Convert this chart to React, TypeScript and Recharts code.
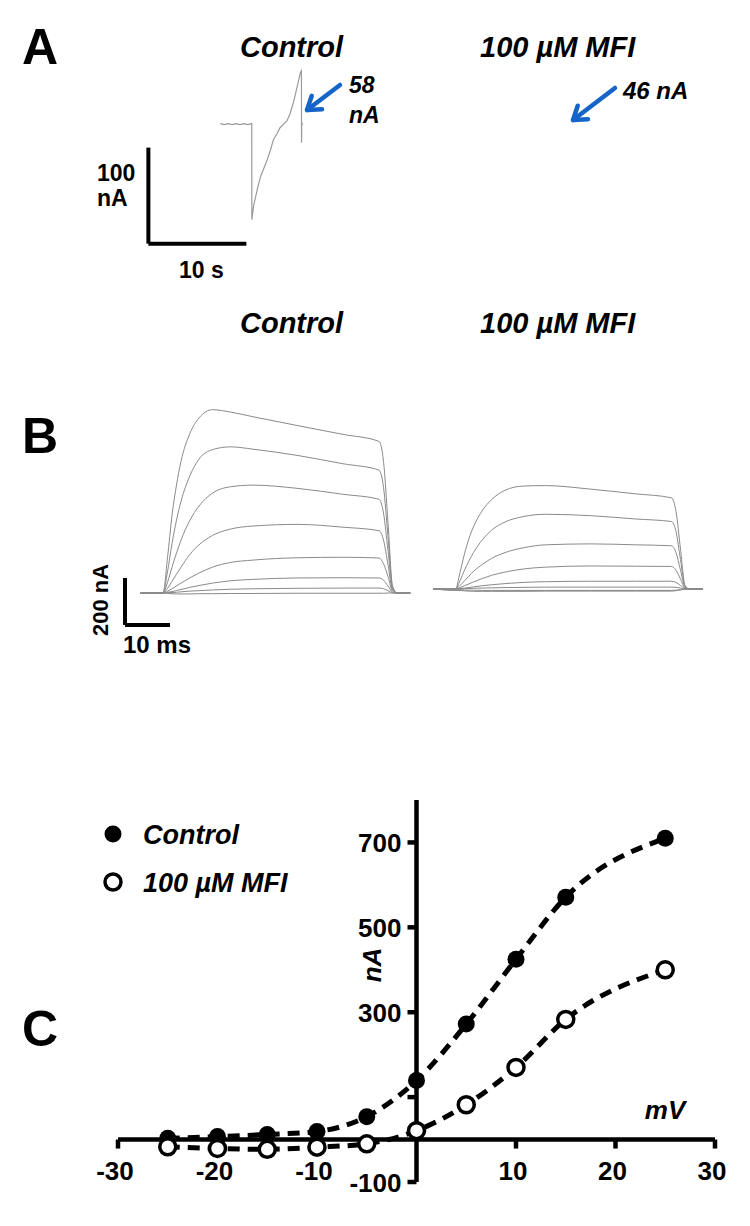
import React from "react";
import { LineChart, Line, XAxis, YAxis, ReferenceLine, ReferenceDot } from "recharts";

const FONT = '"Liberation Sans", Arial, Helvetica, sans-serif';

// ---- panel A: control trace (time in s, current in nA vs holding) ----
const traceATime = [0, 0.4, 0.8, 1.2, 1.6, 2.0, 2.4, 2.8, 3.2, 3.21, 3.4, 3.8, 4.1, 4.5, 4.8, 5.1, 5.4, 5.8, 6.1, 6.5, 6.8, 7.1, 7.45, 7.8, 8.16, 8.27, 8.28, 8.3, 8.4];
const traceACurrent = [1, 0, 1, 0, 1, 0, 1, 0, 1, -99, -84, -66, -54, -44, -36, -27, -16, -9, -3, 1, 4, 11, 23, 38, 54, 56, -19, 2, 0];
// scale bar: [start time, bottom current, 10 s, 100 nA]
const scaleBarA = [-7.35, -124, 10, 100];

// ---- panel B: current families (time in ms, current in nA) ----
const stepTime = [-5, 0, 1, 2, 3, 4, 6, 8, 11, 15, 20, 30, 40, 48, 49, 50, 51, 52, 55];
const controlTraces = [
  [0, 0, 150, 330, 460, 560, 680, 745, 780, 770, 750, 712, 675, 645, 560, 300, 30, 0, 0],
  [0, 0, 90, 210, 310, 390, 500, 570, 610, 622, 612, 585, 550, 523, 450, 240, 25, 0, 0],
  [0, 0, 45, 110, 170, 225, 310, 370, 425, 452, 459, 445, 420, 399, 340, 180, 20, 0, 0],
  [0, 0, 20, 50, 80, 110, 165, 205, 245, 272, 285, 292, 280, 265, 225, 120, 12, 0, 0],
  [0, 0, 8, 18, 30, 42, 65, 85, 110, 130, 140, 150, 152, 149, 125, 70, 8, 0, 0],
  [0, 0, 3, 6, 10, 15, 24, 32, 42, 52, 58, 64, 65, 64, 55, 30, 3, 0, 0],
  [0, 0, 1, 2, 3, 5, 8, 10, 13, 16, 18, 20, 21, 21, 18, 10, 1, 0, 0],
  [0, 0, -2, -3, -4, -4, -4, -3, -3, -2, -2, -1, -1, -1, -1, 0, 0, 0, 0],
];
const mfiTraces = [
  [0, 0, 70, 150, 215, 265, 335, 380, 420, 438, 440, 425, 405, 388, 330, 170, 15, 0, 0],
  [0, 0, 35, 80, 120, 155, 210, 250, 285, 308, 318, 312, 298, 287, 245, 125, 12, 0, 0],
  [0, 0, 15, 35, 55, 75, 105, 130, 155, 175, 188, 192, 188, 184, 155, 80, 8, 0, 0],
  [0, 0, 6, 14, 22, 30, 45, 58, 72, 85, 93, 98, 97, 96, 80, 42, 4, 0, 0],
  [0, 0, 2, 4, 6, 9, 14, 18, 23, 28, 31, 33, 33, 33, 28, 15, 2, 0, 0],
  [0, -5, 0, 1, 2, 3, 4, 5, 6, 7, 8, 8, 8, 8, 7, 4, 0, 0, 0],
  [0, -5, -3, -4, -5, -5, -6, -6, -6, -6, -6, -6, -6, -6, -5, -3, 0, 0, 0],
  [0, -5, -6, -8, -9, -10, -10, -10, -10, -10, -9, -9, -9, -9, -7, -4, 0, 0, 0],
];
// scale bar: [start time, bottom current, 10 ms, 200 nA]
const scaleBarB = [-8.44, -136, 10, 200];

// ---- panel C: I-V relation ----
const voltages = [-25, -20, -15, -10, -5, 0, 5, 10, 15, 25];
const controlIV = [3, 7, 12, 19, 54, 139, 272, 425, 571, 710];
const mfiIV = [-17, -21, -23, -18, -10, 21, 82, 170, 283, 400];
const xTicks = [-30, -20, -10, 10, 20, 30];
const yTicks = [700, 500, 300, 100, -100];
const yTickLabels = ["700", "500", "300", "", "-100"];

const rowsA = traceATime.map((t, i) => ({ t, i: traceACurrent[i] }));
const buildRows = (traces: number[][]) =>
  stepTime.map((t, i) => {
    const row: Record<string, number> = { t };
    traces.forEach((tr, k) => (row[`s${k}`] = tr[i]));
    return row;
  });
const rowsBc = buildRows(controlTraces);
const rowsBm = buildRows(mfiTraces);
const rowsC = voltages.map((v, i) => ({ v, control: controlIV[i], mfi: mfiIV[i] }));

const abs = (left: number, top: number): React.CSSProperties => ({ position: "absolute", left, top });

const ScaleBar = ({ bar }: { bar: number[] }) => {
  const [x0, y0, dx, dy] = bar;
  return (
    <>
      <ReferenceLine segment={[{ x: x0, y: y0 }, { x: x0, y: y0 + dy }]} stroke="#000" strokeWidth={4} ifOverflow="visible" />
      <ReferenceLine segment={[{ x: x0, y: y0 }, { x: x0 + dx, y: y0 }]} stroke="#000" strokeWidth={4} ifOverflow="visible" />
    </>
  );
};

const Arrow = ({ x1, y1, x2, y2 }: { x1: number; y1: number; x2: number; y2: number }) => {
  const a = Math.atan2(y2 - y1, x2 - x1);
  const L = 15;
  const p1 = [x2 - L * Math.cos(a - 0.6), y2 - L * Math.sin(a - 0.6)];
  const p2 = [x2 - L * Math.cos(a + 0.6), y2 - L * Math.sin(a + 0.6)];
  return (
    <g stroke="#1565c8" strokeWidth={4.5} fill="none" strokeLinecap="round" strokeLinejoin="round">
      <line x1={x1} y1={y1} x2={x2} y2={y2} />
      <polyline points={`${p1[0]},${p1[1]} ${x2},${y2} ${p2[0]},${p2[1]}`} />
    </g>
  );
};

const bold = { fontFamily: FONT, fontWeight: 700, fill: "#000" } as const;
const boldIt = { ...bold, fontStyle: "italic" } as const;

export default function App() {
  return (
    <div style={{ position: "absolute", left: 0, top: 0, width: 750, height: 1226, background: "#fff", overflow: "hidden" }}>
      {/* Panel A trace */}
      <div style={abs(141.6, 67.4)}>
        <LineChart width={166.6} height={182.4} data={rowsA} margin={{ top: 0, right: 0, bottom: 0, left: 0 }}>
          <XAxis type="number" dataKey="t" domain={[-8, 9]} allowDataOverflow hide />
          <YAxis type="number" domain={[-130, 60]} allowDataOverflow hide />
          <Line type="linear" dataKey="i" stroke="#9a9a9a" strokeWidth={1.2} dot={false} isAnimationActive={false} />
          {ScaleBar({ bar: scaleBarA })}
        </LineChart>
      </div>

      {/* Panel B control family */}
      <div style={abs(118, 405)}>
        <LineChart width={292.5} height={235} data={rowsBc} margin={{ top: 0, right: 0, bottom: 0, left: 0 }}>
          <XAxis type="number" dataKey="t" domain={[-10, 55]} allowDataOverflow hide />
          <YAxis type="number" domain={[-200, 800]} allowDataOverflow hide />
          {controlTraces.map((_, k) => (
            <Line key={k} type="monotone" dataKey={`s${k}`} stroke="#8a8a8a" strokeWidth={1} dot={false} isAnimationActive={false} />
          ))}
          {ScaleBar({ bar: scaleBarB })}
        </LineChart>
      </div>

      {/* Panel B MFI family */}
      <div style={abs(432.5, 401.3)}>
        <LineChart width={270} height={235} data={rowsBm} margin={{ top: 0, right: 0, bottom: 0, left: 0 }}>
          <XAxis type="number" dataKey="t" domain={[-5, 55]} allowDataOverflow hide />
          <YAxis type="number" domain={[-200, 800]} allowDataOverflow hide />
          {mfiTraces.map((_, k) => (
            <Line key={k} type="monotone" dataKey={`s${k}`} stroke="#8a8a8a" strokeWidth={1} dot={false} isAnimationActive={false} />
          ))}
        </LineChart>
      </div>

      {/* Panel C I-V plot */}
      <div style={abs(0, 760)}>
        <LineChart width={750} height={460} data={rowsC} margin={{ top: 40, right: 35, bottom: 38, left: 118 }}>
          <XAxis type="number" dataKey="v" domain={[-30, 30]} allowDataOverflow hide />
          <YAxis type="number" domain={[-100, 800]} allowDataOverflow hide />
          <ReferenceLine y={0} stroke="#000" strokeWidth={4.5} />
          <ReferenceLine x={0} stroke="#000" strokeWidth={4.5} />
          {xTicks.map((v) => (
            <ReferenceDot
              key={`x${v}`}
              x={v}
              y={0}
              r={0}
              shape={(p: any) => (
                <g>
                  <line x1={p.cx} y1={p.cy} x2={p.cx} y2={p.cy + 9} stroke="#000" strokeWidth={4.5} />
                  <text x={p.cx - 3} y={p.cy + 40} textAnchor="middle" fontSize={26} {...bold}>
                    {v}
                  </text>
                </g>
              )}
            />
          ))}
          {yTicks.map((v, i) => (
            <ReferenceDot
              key={`y${v}`}
              x={0}
              y={v}
              r={0}
              shape={(p: any) => (
                <g>
                  <line x1={p.cx - 9} y1={p.cy} x2={p.cx} y2={p.cy} stroke="#000" strokeWidth={4.5} />
                  <text x={p.cx - 15} y={p.cy + 9.5} textAnchor="end" fontSize={26} {...bold}>
                    {yTickLabels[i]}
                  </text>
                </g>
              )}
            />
          ))}
          <Line
            type="monotone"
            dataKey="control"
            stroke="#000"
            strokeWidth={5}
            strokeDasharray="12 8"
            isAnimationActive={false}
            dot={(p: any) => <circle key={`c${p.index}`} cx={p.cx} cy={p.cy} r={8.5} fill="#000" />}
          />
          <Line
            type="monotone"
            dataKey="mfi"
            stroke="#000"
            strokeWidth={5}
            strokeDasharray="12 8"
            isAnimationActive={false}
            dot={(p: any) => (
              <circle key={`m${p.index}`} cx={p.cx} cy={p.cy} r={8} fill="#fff" stroke="#000" strokeWidth={3.5} />
            )}
          />
        </LineChart>
      </div>

      {/* Labels and annotations */}
      <svg width={750} height={1226} style={{ position: "absolute", left: 0, top: 0, pointerEvents: "none" }}>
        <text x={22} y={64} fontSize={50} {...bold}>A</text>
        <text x={22} y={453} fontSize={50} {...bold}>B</text>
        <text x={22} y={1046} fontSize={50} {...bold}>C</text>

        <text x={240} y={57} fontSize={29} {...boldIt}>Control</text>
        <text x={480} y={57} fontSize={29} {...boldIt}>100 µM MFI</text>
        <text x={240} y={333} fontSize={29} {...boldIt}>Control</text>
        <text x={480} y={333} fontSize={29} {...boldIt}>100 µM MFI</text>

        <Arrow x1={340} y1={85} x2={307} y2={110} />
        <text x={349} y={93} fontSize={23} {...boldIt}>58</text>
        <text x={349} y={123} fontSize={23} {...boldIt}>nA</text>
        <Arrow x1={615} y1={88} x2={573} y2={120} />
        <text x={623} y={99} fontSize={24} {...boldIt}>46 nA</text>

        <text x={97} y={181} fontSize={23} {...bold}>100</text>
        <text x={97} y={206} fontSize={23} {...bold}>nA</text>
        <text x={179} y={278} fontSize={23} {...bold}>10 s</text>

        <text x={108} y={600} fontSize={22} textAnchor="middle" transform="rotate(-90 108 600)" {...bold}>200 nA</text>
        <text x={123} y={653} fontSize={24} {...bold}>10 ms</text>

        <circle cx={113} cy={834} r={8.5} fill="#000" />
        <text x={143} y={843.5} fontSize={27} {...boldIt}>Control</text>
        <circle cx={113} cy={882} r={8} fill="#fff" stroke="#000" strokeWidth={3.5} />
        <text x={143} y={891.5} fontSize={27} {...boldIt}>100 µM MFI</text>

        <text x={381} y={965} fontSize={26} textAnchor="middle" transform="rotate(-90 381 965)" {...boldIt}>nA</text>
        <text x={665} y={1119} fontSize={26} textAnchor="middle" {...boldIt}>mV</text>
      </svg>
    </div>
  );
}
